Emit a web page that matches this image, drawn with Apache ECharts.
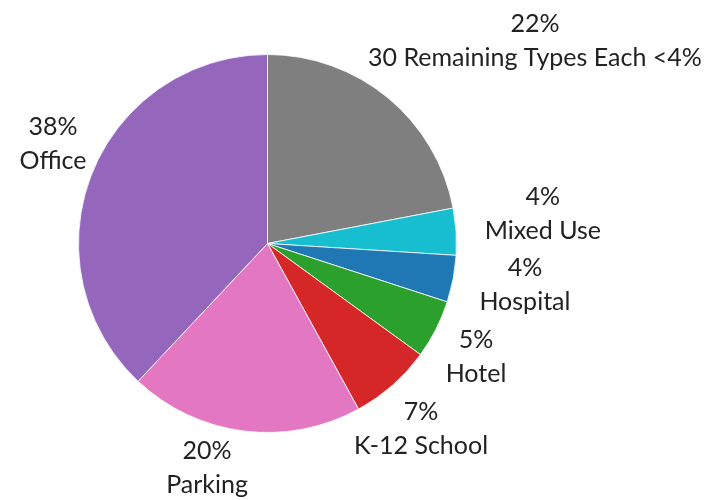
<!DOCTYPE html>
<html>
<head>
<meta charset="utf-8">
<script src="https://cdn.jsdelivr.net/npm/echarts@6/dist/echarts.min.js"></script>
<style>
  html, body { margin: 0; padding: 0; background: #fff; }
  #chart { width: 725px; height: 500px; }
</style>
</head>
<body>
<div id="chart"></div>
<script>
// Share of projects by building type (percent)
const categories = ['30 Remaining Types Each <4%', 'Mixed Use', 'Hospital', 'Hotel', 'K-12 School', 'Parking', 'Office'];
const shares = [22, 4, 4, 5, 7, 20, 38];
const colors = ['#7f7f7f', '#17becf', '#1f77b4', '#2ca02c', '#d62728', '#e377c2', '#9467bd'];

// Label block centres, relative to the pie centre, in units of the radius
const labelOffsets = [
  [1.415, -1.071],
  [1.457, -0.157],
  [1.362, 0.220],
  [1.103, 0.600],
  [0.812, 0.981],
  [-0.320, 1.188],
  [-1.135, -0.526]
];

const cx = 267.5, cy = 243.5, radius = 189;

const chart = echarts.init(document.getElementById('chart'));
chart.setOption({
  animation: false,
  backgroundColor: '#ffffff',
  series: [{
    type: 'pie',
    center: [cx, cy],
    radius: radius,
    startAngle: 90,
    clockwise: true,
    silent: true,
    data: categories.map((name, i) => ({
      name: name,
      value: shares[i],
      itemStyle: { color: colors[i] }
    })),
    itemStyle: { borderColor: '#ffffff', borderWidth: 0.8 },
    label: {
      show: true,
      position: 'outside',
      formatter: '{c}%\n{b}',
      fontFamily: 'Lato',
      fontSize: 25,
      lineHeight: 34,
      color: '#222222',
      align: 'center',
      overflow: 'none',
      width: 400
    },
    labelLine: { show: false },
    labelLayout: function (params) {
      const o = labelOffsets[params.dataIndex];
      return {
        x: cx + o[0] * radius,
        y: cy + o[1] * radius,
        align: 'center',
        verticalAlign: 'middle',
        width: 400
      };
    }
  }]
});
</script>
</body>
</html>
